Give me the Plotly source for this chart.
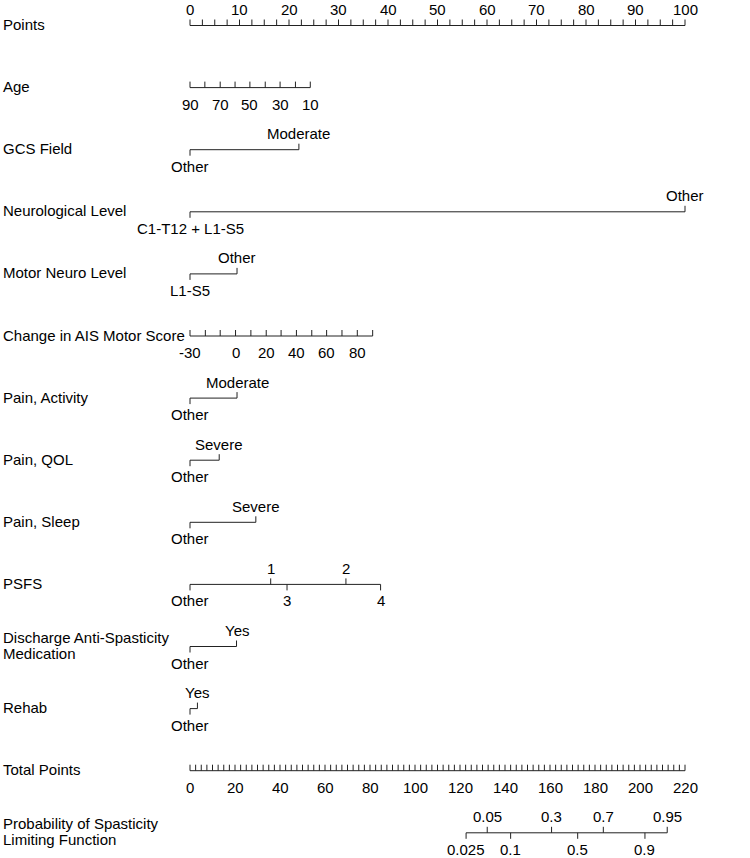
import numpy as np
import plotly.graph_objects as go

# ----------- DATA (points scale 0-100) --------- #
points_ticks = np.arange(0, 100.01, 2.5)
points_labels = list(range(0, 101, 10))

age_values = [90, 80, 70, 60, 50, 40, 30, 20, 10]
age_points = [0, 3.0, 6.1, 9.1, 12.1, 15.2, 18.2, 21.3, 24.3]
age_shown = [90, 70, 50, 30, 10]

gcs_labels = ["Other", "Moderate"]
gcs_points = [0, 22.0]

neuro_labels = ["C1-T12 + L1-S5", "Other"]
neuro_points = [0, 100]

motor_labels = ["L1-S5", "Other"]
motor_points = [0, 9.5]

ais_values = [-30, -20, -10, 0, 10, 20, 30, 40, 50, 60, 70, 80, 90]
ais_points = [0, 3.1, 6.1, 9.2, 12.3, 15.4, 18.4, 21.5, 24.6, 27.6, 30.7, 33.8, 36.9]
ais_shown = [-30, 0, 20, 40, 60, 80]

pain_act_labels = ["Other", "Moderate"]
pain_act_points = [0, 9.5]

pain_qol_labels = ["Other", "Severe"]
pain_qol_points = [0, 5.9]

pain_sleep_labels = ["Other", "Severe"]
pain_sleep_points = [0, 13.3]

psfs_labels = ["Other", "1", "3", "2", "4"]
psfs_points = [0, 16.3, 19.6, 31.5, 38.5]

discharge_labels = ["Other", "Yes"]
discharge_points = [0, 9.4]

rehab_labels = ["Other", "Yes"]
rehab_points = [0, 1.5]

total_ticks = np.arange(0, 220.01, 2.5)
total_labels = list(range(0, 221, 20))
total_max = 220

prob_labels = ["0.025", "0.05", "0.1", "0.3", "0.5", "0.7", "0.9", "0.95"]
prob_total = [122.7, 132.1, 142.5, 160.7, 172.3, 183.7, 202.2, 212.1]

row_names = [["Points"], ["Age"], ["GCS Field"], ["Neurological Level"], ["Motor Neuro Level"],
             ["Change in AIS Motor Score"], ["Pain, Activity"], ["Pain, QOL"], ["Pain, Sleep"],
             ["PSFS"], ["Discharge Anti-Spasticity", "Medication"], ["Rehab"], ["Total Points"],
             ["Probability of Spasticity", "Limiting Function"]]

# ----------- LAYOUT HELPERS --------- #
W, H = 750, 858
X0, PX = 190, 4.95          # pixel of 0 points, pixels per point
ROW0, ROWSTEP = 25.5, 62.1
TICK = 6
LAB_UP, LAB_DN = 16, 16.5
FONT = dict(family="Liberation Sans, Arial, sans-serif", size=15, color="#000")
LINE = dict(color="#222", width=1)

fig = go.Figure()
annots = []


def row_y(i):
    return ROW0 + ROWSTEP * i


def draw_axis(i, pos, up=None):
    """baseline + ticks; up: list of bools (True = tick up)"""
    y = row_y(i)
    if up is None:
        up = [True] * len(pos)
    xs, ys = [min(pos), max(pos), None], [y, y, None]
    for p, u in zip(pos, up):
        xs += [p, p, None]
        ys += [y, y - TICK if u else y + TICK, None]
    fig.add_trace(go.Scatter(x=xs, y=ys, mode="lines", line=LINE,
                             hoverinfo="skip", showlegend=False))


def label(i, p, txt, above):
    y = row_y(i)
    annots.append(dict(x=p, y=y - LAB_UP if above else y + LAB_DN, text=str(txt),
                       xref="x", yref="y", showarrow=False, font=FONT, borderpad=0,
                       xanchor="center", yanchor="middle"))


def continuous(i, pos, labpos, labtxt, above):
    draw_axis(i, pos)
    for p, t in zip(labpos, labtxt):
        label(i, p, t, above)


def categorical(i, pos, labs):
    sides = [k % 2 == 1 for k in range(len(pos))]
    draw_axis(i, pos, sides)
    for p, t, s in zip(pos, labs, sides):
        label(i, p, t, s)


# Points
continuous(0, list(points_ticks), points_labels, points_labels, True)
# Age
continuous(1, age_points, [age_points[age_values.index(a)] for a in age_shown], age_shown, False)
categorical(2, gcs_points, gcs_labels)
categorical(3, neuro_points, neuro_labels)
categorical(4, motor_points, motor_labels)
continuous(5, ais_points, [ais_points[ais_values.index(a)] for a in ais_shown], ais_shown, False)
categorical(6, pain_act_points, pain_act_labels)
categorical(7, pain_qol_points, pain_qol_labels)
categorical(8, pain_sleep_points, pain_sleep_labels)
categorical(9, psfs_points, psfs_labels)
categorical(10, discharge_points, discharge_labels)
categorical(11, rehab_points, rehab_labels)

# Total points mapped onto the 0-100 points scale
scale = 100 / total_max
continuous(12, [t * scale for t in total_ticks], [t * scale for t in total_labels], total_labels, False)
categorical(13, [t * scale for t in prob_total], prob_labels)

# row names (two-line names split around the axis line)
for i, lines in enumerate(row_names):
    n = len(lines)
    for k, txt in enumerate(lines):
        annots.append(dict(x=2 / W, y=row_y(i) - 1 + (k - (n - 1) / 2) * 16, text=txt,
                           xref="paper", yref="y", showarrow=False, font=FONT, borderpad=0,
                           xanchor="left", yanchor="middle"))

fig.update_layout(
    width=W, height=H, margin=dict(l=0, r=0, t=0, b=0),
    plot_bgcolor="white", paper_bgcolor="white",
    xaxis=dict(range=[-X0 / PX, (W - X0) / PX], visible=False),
    yaxis=dict(range=[H, 0], visible=False),
    annotations=annots,
)

fig.write_html("out.html", config={"displayModeBar": False},
               post_script="document.body.style.margin='0px';")
